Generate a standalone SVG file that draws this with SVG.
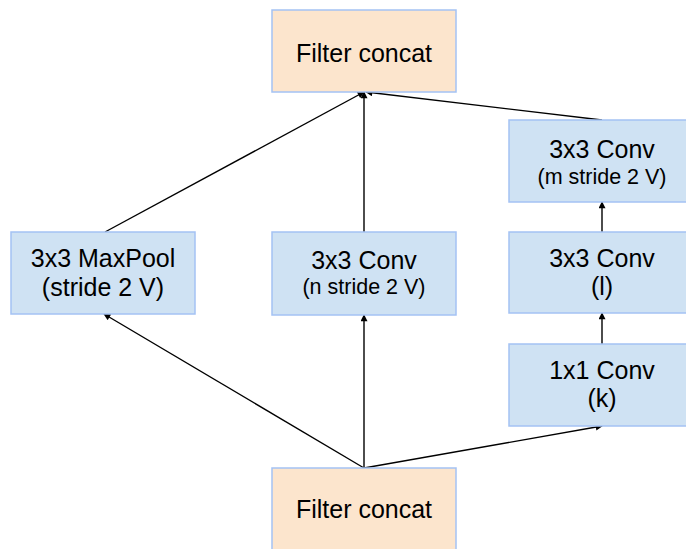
<svg xmlns="http://www.w3.org/2000/svg" width="686" height="549" viewBox="0 0 686 549">
<style>
.blue{fill:#cfe2f3;stroke:#a4c2f4;stroke-width:1.5}
.orange{fill:#fce5cd;stroke:#a4c2f4;stroke-width:1.5}
.t{font-family:"Liberation Sans",Arial,sans-serif;font-size:25px;fill:#000;text-anchor:middle}
.s{font-family:"Liberation Sans",Arial,sans-serif;font-size:21.5px;fill:#000;text-anchor:middle}
.c{stroke:#000;stroke-width:1.4;fill:none;marker-end:url(#ah)}
</style>
<defs>
<marker id="ah" viewBox="0 0 10 10" refX="9" refY="5" markerWidth="8" markerHeight="7" markerUnits="userSpaceOnUse" orient="auto">
<path d="M0,0 L10,5 L0,10 z" fill="#000"/>
</marker>
</defs>
<rect width="686" height="549" fill="#fff"/>
<g id="connectors">
<line class="c" x1="364" y1="468" x2="104" y2="314"/>
<line class="c" x1="364" y1="468" x2="364" y2="315"/>
<line class="c" x1="364" y1="468" x2="602" y2="426"/>
<line class="c" x1="105" y1="232" x2="364" y2="92"/>
<line class="c" x1="364" y1="232" x2="364" y2="92"/>
<line class="c" x1="602" y1="120" x2="366" y2="92"/>
<line class="c" x1="602" y1="344" x2="602" y2="313"/>
<line class="c" x1="602" y1="232" x2="602" y2="202"/>
</g>
<g id="top-concat">
<rect class="orange" x="272" y="10" width="184" height="82"/>
<text class="t" x="364" y="62">Filter concat</text>
</g>
<g id="maxpool">
<rect class="blue" x="11" y="232" width="184" height="82"/>
<text class="t" x="103" y="267">3x3 MaxPool</text>
<text class="t" x="103" y="296">(stride 2 V)</text>
</g>
<g id="conv-n">
<rect class="blue" x="272" y="232" width="184" height="83"/>
<text class="t" x="364" y="269">3x3 Conv</text>
<text class="s" x="364" y="294">(n stride 2 V)</text>
</g>
<g id="conv-m">
<rect class="blue" x="509" y="120" width="186" height="82"/>
<text class="t" x="602" y="158">3x3 Conv</text>
<text class="s" x="602" y="184">(m stride 2 V)</text>
</g>
<g id="conv-l">
<rect class="blue" x="509" y="232" width="186" height="81"/>
<text class="t" x="602" y="267">3x3 Conv</text>
<text class="t" x="602" y="295">(l)</text>
</g>
<g id="conv-k">
<rect class="blue" x="509" y="344" width="186" height="82"/>
<text class="t" x="602" y="379">1x1 Conv</text>
<text class="t" x="602" y="407">(k)</text>
</g>
<g id="bottom-concat">
<rect class="orange" x="272" y="468" width="184" height="90"/>
<text class="t" x="364" y="518">Filter concat</text>
</g>
</svg>
